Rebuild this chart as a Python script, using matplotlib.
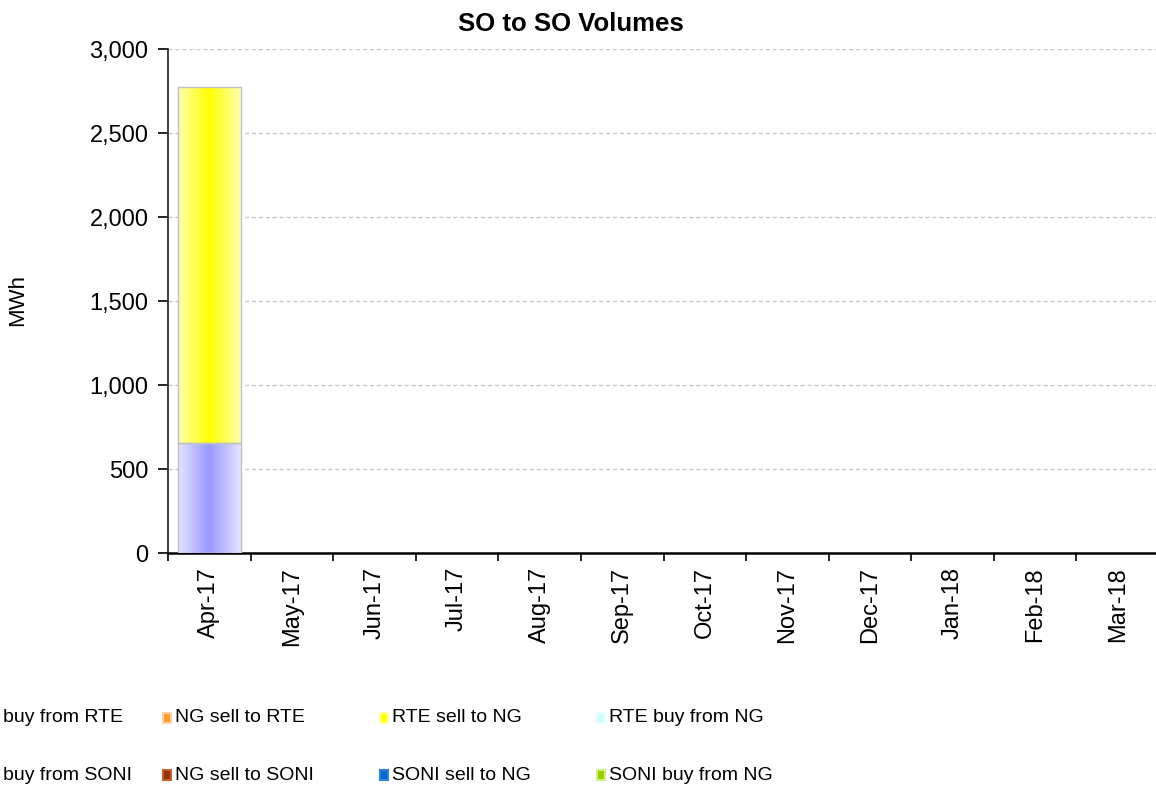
import numpy as np
import matplotlib
matplotlib.use("Agg")
import matplotlib.pyplot as plt
from matplotlib.patches import Rectangle
from matplotlib.colors import LinearSegmentedColormap

plt.rcParams['font.family'] = ['Liberation Sans', 'DejaVu Sans']

months = ["Apr-17", "May-17", "Jun-17", "Jul-17", "Aug-17", "Sep-17",
          "Oct-17", "Nov-17", "Dec-17", "Jan-18", "Feb-18", "Mar-18"]
ng_buy_from_rte = [655, 0, 0, 0, 0, 0, 0, 0, 0, 0, 0, 0]
rte_sell_to_ng = [2119, 0, 0, 0, 0, 0, 0, 0, 0, 0, 0, 0]

# first column of the legend is cropped at the left edge in the reference
legend_rows = [
    ["buy from RTE", "NG sell to RTE", "RTE sell to NG", "RTE buy from NG"],
    ["buy from SONI", "NG sell to SONI", "SONI sell to NG", "SONI buy from NG"],
]
legend_colors = [
    [None, ("#ffd0a0", "#ff9933"), ("#ffffa0", "#ffff00"), ("#e8ffff", "#ccffff")],
    [None, ("#c06030", "#993300"), ("#3080e0", "#0066cc"), ("#d0f080", "#99cc00")],
]

W, H = 1156, 789
fig = plt.figure(figsize=(W / 100, H / 100), dpi=100)
ax = fig.add_axes([168 / W, 1 - 553 / H, 991 / W, (553 - 49) / H])

x = np.arange(len(months))
width = 0.76

def grad_bars(bottoms, heights, edge_c, center_c):
    cmap = LinearSegmentedColormap.from_list("g", [edge_c, center_c, edge_c])
    bars = ax.bar(x, heights, width, bottom=bottoms, color=center_c,
                  edgecolor="#c0c0c0", linewidth=1.0, zorder=3)
    grad = np.linspace(0, 1, 256).reshape(1, -1)
    for b in bars:
        if b.get_height() <= 0:
            b.set_visible(False)
            continue
        x0, y0 = b.get_x(), b.get_y()
        im = ax.imshow(grad, cmap=cmap, aspect="auto",
                       extent=(x0, x0 + b.get_width(), y0, y0 + b.get_height()),
                       zorder=3.5, interpolation="bilinear")
        im.set_clip_path(b)
        b.set_facecolor("none")
        b.set_zorder(4)
    return bars

grad_bars(np.zeros(len(months)), ng_buy_from_rte, "#e4e4ff", "#9999ff")
grad_bars(np.array(ng_buy_from_rte), rte_sell_to_ng, "#ffffb0", "#ffff00")

ax.set_xlim(-0.5, len(months) - 0.5)
ax.set_ylim(0, 3000)
ax.set_yticks(np.arange(0, 3001, 500))
ax.set_yticklabels([f"{v:,}" for v in range(0, 3001, 500)])
ax.yaxis.grid(True, color="#c8c8c8", linestyle=(0, (3, 2)), linewidth=1.0, zorder=0)
ax.set_axisbelow(True)

ax.set_xticks(x)
ax.set_xticklabels(months, rotation=90)
ax.set_xticks(np.arange(-0.5, len(months), 1), minor=True)
ax.tick_params(axis="x", which="major", length=0, labelsize=17, pad=10)
ax.tick_params(axis="x", which="minor", length=6, width=1.2, direction="out")
ax.tick_params(axis="y", length=7, width=1.2, direction="out", labelsize=17, pad=7)

for s in ["top", "right"]:
    ax.spines[s].set_visible(False)
ax.spines["left"].set_linewidth(1.3)
ax.spines["bottom"].set_linewidth(1.8)
ax.spines["left"].set_color("#333333")

fig.text(571 / W, 1 - 24 / H, "SO to SO Volumes", fontsize=18.5,
         fontweight="bold", ha="center", va="center")
fig.text(18 / W, 1 - 300 / H, "MWh", rotation=90, fontsize=16,
         ha="center", va="center")

# Legend (first column cropped at left like reference)
col_marker_x = [None, 163, 380, 597]
row_y = [718, 775]
for r, row in enumerate(legend_rows):
    for c, label in enumerate(row):
        yc = row_y[r]
        if c == 0:
            fig.text(3 / W, 1 - yc / H, label, fontsize=14, ha="left", va="center")
            continue
        mx = col_marker_x[c]
        ec, cc = legend_colors[r][c]
        fig.patches.append(Rectangle((mx / W, 1 - (yc + 5) / H), 8 / W, 10 / H,
                                     transform=fig.transFigure, facecolor=cc,
                                     edgecolor=ec, linewidth=1.5))
        fig.text((mx + 12) / W, 1 - yc / H, label, fontsize=14,
                 ha="left", va="center")

fig.savefig("out.png", dpi=100)
